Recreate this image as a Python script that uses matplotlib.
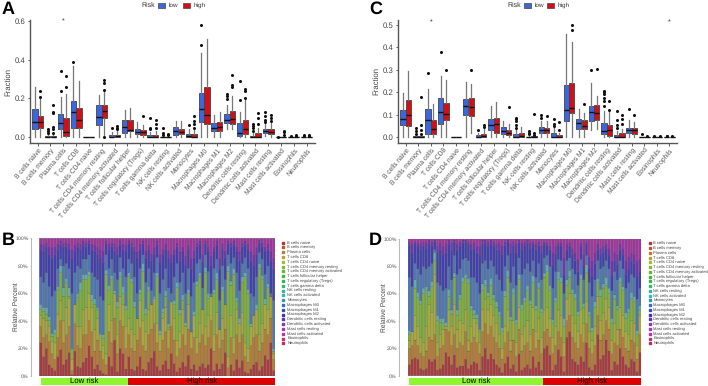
import numpy as np
import matplotlib
matplotlib.use("Agg")
import matplotlib.pyplot as plt
from matplotlib.patches import Rectangle
from matplotlib.colors import hsv_to_rgb

plt.rcParams['font.family'] = ['Liberation Sans', 'DejaVu Sans']
plt.rcParams['text.hinting'] = 'none'

cells = ["B cells naive", "B cells memory", "Plasma cells", "T cells CD8", "T cells CD4 naive",
         "T cells CD4 memory resting", "T cells CD4 memory activated", "T cells follicular helper",
         "T cells regulatory (Tregs)", "T cells gamma delta", "NK cells resting", "NK cells activated",
         "Monocytes", "Macrophages M0", "Macrophages M1", "Macrophages M2", "Dendritic cells resting",
         "Dendritic cells activated", "Mast cells resting", "Mast cells activated", "Eosinophils", "Neutrophils"]

# panel A, low risk
a_low_q1 = [.04, 0, .04, .05, 0, .065, 0, .02, .015, 0, 0, .012, 0, .08, .03, .075, .005, 0, .02, 0, 0, 0]
a_low_med = [.08, 0, .075, .13, 0, .105, 0, .055, .025, 0, 0, .03, .005, .145, .045, .09, .022, 0, .03, 0, 0, 0]
a_low_q3 = [.145, .005, .118, .185, 0, .165, .01, .09, .042, .01, .002, .055, .018, .228, .072, .12, .075, .008, .04, 0, 0, 0]
a_low_lo = [0, 0, 0, 0, 0, 0, 0, 0, 0, 0, 0, 0, 0, 0, 0, .04, 0, 0, .005, 0, 0, 0]
a_low_hi = [.26, .01, .205, .365, 0, .22, .025, .14, .08, .025, .005, .085, .04, .435, .115, .165, .13, .02, .07, 0, 0, 0]
a_low_out = [[], [.02, .03, .04], [.24, .34], [.39], [], [], [.05], [], [], [.04, .05, .1], [.01, .02, .05], [],
             [.065], [.475, .58], [], [.195, .215, .225], [.19, .29], [.03, .045, .06, .07], [.08, .09, .11, .13],
             [.002], [.005], [.005, .01]]

# panel A, high risk
a_high_q1 = [.045, 0, .008, .05, 0, .1, 0, .03, .012, 0, 0, .015, 0, .07, .03, .07, .015, 0, .018, 0, 0, 0]
a_high_med = [.08, 0, .025, .09, 0, .135, .005, .035, .025, .002, 0, .025, .002, .115, .055, .095, .04, .002, .028, 0, 0, 0]
a_high_q3 = [.11, .005, .098, .15, 0, .165, .012, .09, .038, .012, .002, .042, .015, .26, .078, .135, .09, .02, .042, 0, 0, 0]
a_high_lo = [0, 0, 0, 0, 0, 0, 0, 0, 0, 0, 0, 0, 0, 0, 0, .04, 0, 0, 0, 0, 0, 0]
a_high_hi = [.2, .012, .225, .29, 0, .235, .03, .15, .062, .03, .005, .082, .035, .505, .13, .215, .19, .05, .075, 0, 0, 0]
a_high_out = [[.21, .24], [.02, .04, .055, .125, .13, .165], [.26, .315], [], [], [0, .245, .28, .295],
              [.04, .05, .06], [], [.11], [.05, .07, .09], [.01, .015], [], [.05, .07, .085, .11], [], [],
              [.26, .27, .32], [.2, .24, .25], [.07, .1, .125], [.085, .1, .115], [.01, .025, .032],
              [.005, .012], [.005, .012]]

# panel C, low risk
c_low_q1 = [.052, 0, .015, .058, 0, .1, 0, .03, .015, 0, 0, .018, 0, .07, .035, .07, .012, 0, .017, 0, 0, 0]
c_low_med = [.08, 0, .075, .11, 0, .137, .002, .053, .027, .002, 0, .03, .002, .12, .062, .11, .025, .002, .03, 0, 0, 0]
c_low_q3 = [.12, .003, .123, .175, 0, .168, .01, .08, .045, .012, .002, .045, .016, .232, .08, .14, .062, .01, .042, 0, 0, 0]
c_low_lo = [0, 0, 0, 0, 0, 0, 0, 0, 0, 0, 0, 0, 0, 0, 0, .03, 0, 0, 0, 0, 0, 0]
c_low_hi = [.195, .008, .215, .27, 0, .245, .02, .138, .072, .03, .006, .07, .04, .46, .125, .24, .115, .025, .075, 0, 0, 0]
c_low_out = [[], [.015, .025, .04], [.287], [.38], [], [], [.03], [], [], [.04, .055, .07, .08, .085],
             [.012, .02, .028], [.085, .1], [.05, .06, .08], [], [], [.298], [.14, .16, .175, .19, .2, .205],
             [.04, .055, .075, .115], [.125], [.015], [.005], [.003, .005]]

# panel C, high risk
c_high_q1 = [.048, 0, .012, .075, 0, .095, .002, .02, .008, 0, 0, .017, 0, .105, .035, .078, .005, 0, .012, 0, 0, 0]
c_high_med = [.098, 0, .037, .102, 0, .133, .007, .057, .02, .005, 0, .03, .002, .13, .05, .107, .03, .002, .032, 0, 0, 0]
c_high_q3 = [.163, .004, .075, .15, 0, .172, .015, .086, .032, .02, .003, .042, .008, .24, .078, .143, .052, .02, .042, 0, 0, 0]
c_high_lo = [0, 0, 0, 0, 0, .02, 0, 0, 0, 0, 0, 0, 0, 0, 0, .035, 0, 0, 0, 0, 0, 0]
c_high_hi = [.293, .01, .147, .255, 0, .235, .035, .155, .06, .045, .006, .07, .018, .423, .105, .185, .11, .035, .065, 0, 0, 0]
c_high_out = [[], [.015, .03, .055, .18], [], [.3], [], [.3], [.045, .055], [], [.132], [], [.01, .02, .102],
              [.095], [.03, .065], [.478, .497], [.148], [.302], [.122, .16], [.06, .08, .1], [.098], [.003],
              [.003], [.005]]

# stacked bars: cumulative tops of the colour bands, read bar by bar
b_n_low = 31
b_red = [24,14,20,8,6,4,14,19,8,12,17,1,18,7,6,10,13,22,14,5,8,4,2,1,14,7,26,3,20,16,5,
         14,5,4,7,14,5,4,10,13,18,7,4,8,11,5,16,9,3,6,10,7,15,5,8,4,7,9,6,8,20,4,9,5,9,17,0,8,4,12,6,11,3,2,5,8,10,4,7,15,12,24,4]
b_orange = [36,28,30,25,16,12,28,40,24,30,36,4,38,22,20,30,30,40,32,18,26,18,12,8,32,24,42,16,40,36,20,
            30,20,18,26,35,22,18,30,34,38,24,18,26,32,20,36,26,14,20,30,22,34,20,28,16,24,30,22,28,40,18,30,20,26,34,6,28,16,30,24,30,14,10,22,28,30,18,24,34,30,42,12]
b_olive = [44,42,40,36,25,24,45,55,40,50,56,12,52,36,36,48,50,60,50,34,42,30,22,16,52,40,60,30,58,52,36,
           42,34,30,42,55,40,32,48,52,56,38,30,42,50,34,54,42,26,32,48,36,52,32,44,28,38,48,36,44,58,30,46,34,42,52,14,44,28,48,38,46,24,20,36,44,48,30,38,52,48,58,16]
b_green = [48,47,45,40,29,31,62,75,58,68,58,19,44,57,62,70,70,73,55,52,48,28,27,74,62,70,57,50,72,60,48,
           72,68,50,36,60,76,45,62,40,55,72,30,46,58,35,30,52,64,45,55,36,60,28,44,66,72,40,75,56,34,60,70,28,62,48,76,66,74,54,38,68,72,60,34,28,48,78,70,52,64,32,18]
b_teal = [52,50,50,43,31,34,65,80,64,71,64,20,51,60,68,74,74,76,59,56,50,31,30,77,66,73,62,54,76,65,51,
          75,71,54,39,63,82,49,65,44,58,75,33,49,62,38,33,55,68,48,59,39,63,32,47,69,75,43,79,60,37,63,75,31,65,52,80,69,78,57,42,72,75,63,38,30,52,82,73,56,67,35,20]
b_blue = [72,68,75,65,58,62,78,85,80,82,78,60,75,80,78,85,85,88,75,72,70,58,55,88,78,85,75,70,86,78,72,
          85,82,72,60,78,88,68,78,62,75,86,60,70,78,64,60,72,82,68,75,60,78,58,68,82,85,64,88,76,60,78,85,55,80,70,88,82,86,75,62,82,86,78,60,58,72,90,85,74,80,60,55]
b_indigo = [92,90,94,88,86,88,92,95,93,94,92,85,90,93,92,95,94,96,92,90,88,85,82,96,92,94,91,88,95,92,90,
            96,94,90,85,92,96,86,92,84,88,95,82,88,92,86,82,88,94,84,90,80,92,78,86,94,95,82,96,90,80,90,95,78,92,86,96,94,95,90,84,94,95,92,84,80,88,97,94,90,92,84,78]
b_purple = [96,95,97,94,93,94,96,98,97,97,96,92,95,97,96,98,97,98,96,95,94,92,91,98,96,97,96,94,98,96,95,
            98,97,94,90,96,98,91,95,89,93,98,88,92,96,91,88,92,97,90,94,87,95,85,91,97,98,88,98,94,87,94,98,85,96,91,98,97,98,94,90,97,98,96,90,88,93,99,97,94,96,90,86]

d_n_low = 48
d_red = [8,12,13,12,5,4,5,12,10,12,4,5,8,17,14,8,15,6,7,7,12,5,8,10,9,4,14,20,12,16,12,8,6,2,9,14,5,8,3,16,4,6,8,5,14,6,10,4,
         20,22,15,4,8,19,14,3,28,32,12,10,8,14,10,24,6,4,8,30,12,15,26,18,4,10,8,20,14,8,6,12,10,3,17]
d_orange = [20,22,26,22,16,14,18,28,26,30,14,20,22,34,32,22,30,20,24,22,32,18,24,28,24,16,32,38,30,36,28,24,20,12,24,32,18,26,14,34,18,22,24,18,34,20,26,16,
            32,34,28,16,22,32,28,14,40,44,28,24,20,30,24,38,20,16,22,44,26,30,40,34,16,24,22,34,28,20,18,26,24,12,30]
d_olive = [26,32,44,36,28,24,36,52,46,74,24,30,34,36,48,36,52,34,40,38,48,26,36,42,38,24,48,56,48,52,44,38,30,20,36,48,26,40,24,50,30,36,40,30,50,32,42,28,
           48,50,42,28,36,48,44,24,56,60,44,38,32,48,38,54,32,26,36,58,40,46,56,50,26,38,34,50,44,32,30,40,38,22,44]
d_green = [30,29,64,57,52,60,62,58,65,84,40,39,38,36,58,45,72,44,56,68,71,67,48,45,42,32,62,66,58,66,56,50,44,32,58,72,40,60,38,70,48,54,62,52,68,48,64,46,
           72,76,62,38,54,70,68,36,66,72,60,56,44,70,50,75,44,32,50,68,58,64,66,60,38,56,48,68,62,42,46,56,54,30,48]
d_teal = [33,32,70,61,55,64,65,62,69,90,44,42,42,39,63,48,75,48,59,72,74,71,51,48,45,34,67,70,61,71,59,54,47,35,62,77,43,64,41,74,52,57,66,55,73,51,68,49,
          75,81,66,41,57,76,72,42,70,77,63,60,47,74,53,81,47,35,54,71,63,67,72,64,42,59,51,72,65,46,49,61,58,33,51]
d_blue = [72,65,82,78,74,80,78,80,82,92,68,66,62,64,80,70,88,74,78,85,86,84,72,72,68,60,82,84,78,84,80,74,70,62,80,88,68,80,66,86,74,78,82,76,84,72,82,70,
          86,88,80,64,76,85,84,60,84,86,78,74,66,85,70,88,68,58,70,84,78,80,84,78,62,76,70,84,78,64,68,74,72,56,64]
d_indigo = [95,90,96,94,92,95,93,96,95,98,90,92,88,90,96,92,98,92,94,97,97,96,92,93,90,88,96,96,94,96,95,92,92,88,95,98,90,95,90,97,92,94,96,93,96,92,95,90,
            96,95,92,80,88,94,94,74,92,94,88,84,76,94,80,96,78,72,82,92,88,90,93,88,72,84,80,92,88,74,78,84,82,72,76]
d_purple = [98,96,98,97,96,98,97,99,98,99,95,97,94,96,99,97,99,96,98,99,99,98,96,97,95,94,99,99,98,99,98,96,97,95,98,99,96,98,96,99,97,98,99,97,98,96,98,95,
            98,97,95,90,94,97,97,86,96,97,93,90,85,97,88,98,87,84,90,96,93,95,96,93,84,90,88,96,93,84,87,90,88,84,85]

band_colors = ["#ab3a3c", "#b47c34", "#a9a839", "#7fb03c", "#62ada6", "#4e78b4", "#4140ae", "#7533ad", "#a2339f"]
W, H = 708, 386
fig = plt.figure(figsize=(W / 100, H / 100), dpi=100)


def px_axes(x0, y0, x1, y1):
    return fig.add_axes([x0 / W, 1 - y1 / H, (x1 - x0) / W, (y1 - y0) / H])


def stats(q1, med, q3, lo, hi, out):
    return [dict(q1=a, med=b, q3=c, whislo=d, whishi=e, fliers=f) for a, b, c, d, e, f in zip(q1, med, q3, lo, hi, out)]


def box_panel(box, low, high, xlim, ylim, yticks, stars):
    ax = px_axes(*box)
    pos = np.arange(len(cells))
    for st, shift, col in [(low, -0.215, "#3a66e0"), (high, 0.215, "#d40f14")]:
        ax.bxp(st, positions=pos + shift, widths=0.42, patch_artist=True, showcaps=False,
               boxprops=dict(facecolor=col, edgecolor="#444444", linewidth=0.6),
               medianprops=dict(color="#111111", linewidth=1.0),
               whiskerprops=dict(color="#777777", linewidth=0.9),
               flierprops=dict(marker="o", markersize=2.2, markerfacecolor="#111111", markeredgecolor="#111111", markeredgewidth=0))
    for i, y in stars:
        ax.text(i, y, "*", ha="center", va="center", fontsize=5, color="#333333")
    ax.set_xlim(*xlim)
    ax.set_ylim(*ylim)
    ax.set_xticks(pos)
    ax.set_xticklabels(cells, rotation=50, ha="right", rotation_mode="anchor", fontsize=4.8, color="#555555")
    ax.set_yticks(yticks)
    ax.set_yticklabels([f"{t:.1f}" for t in yticks], fontsize=5.6, color="#444444")
    ax.set_ylabel("Fraction", fontsize=5.6, color="#444444", labelpad=2.5)
    ax.tick_params(length=1.8, width=0.6, color="#444444", pad=1.2)
    for s in ["top", "right"]:
        ax.spines[s].set_visible(False)
    for s in ["left", "bottom"]:
        ax.spines[s].set_color("#555555")
        ax.spines[s].set_linewidth(1.0)


def stack_panel(box, strip, tops, n_low, ylab_x, spine_out):
    ax = px_axes(*box)
    # set_position resets the ticks, so the spine goes first
    for s in ax.spines.values():
        s.set_visible(False)
    ax.spines["left"].set_visible(True)
    ax.spines["left"].set_position(("outward", spine_out))
    ax.spines["left"].set_color("#bbbbbb")
    ax.spines["left"].set_linewidth(0.8)
    tops = np.maximum.accumulate(np.array(tops, dtype=float), axis=0)
    tops = np.vstack([tops, np.full(tops.shape[1], 100.0)])
    xs = np.arange(tops.shape[1])
    bottom = np.zeros(tops.shape[1])
    for row, col in zip(tops, band_colors):
        ax.bar(xs, row - bottom, bottom=bottom, width=0.88, color=col, edgecolor="#3a3a3a", linewidth=0.12, snap=False)
        bottom = row
    ax.set_xlim(-0.5, len(xs) - 0.5)
    ax.set_ylim(0, 100)
    ax.set_facecolor("#c4c4c4")
    ax.set_xticks([])
    ax.set_yticks(range(0, 101, 20))
    ax.set_yticklabels([f"{t}%" for t in range(0, 101, 20)], fontsize=3.8, color="#555555")
    ax.tick_params(length=1, width=0.4, color="#aaaaaa", pad=0.5)
    fig.text(ylab_x / W, 1 - (box[1] + box[3]) / 2 / H, "Relative Percent", rotation=90, fontsize=4.8,
             color="#444444", ha="center", va="center")
    # low / high strip under the bars
    sx = px_axes(*strip)
    sx.barh(0, n_low, left=0, height=1, color="#8ef52f")
    sx.barh(0, len(xs) - n_low, left=n_low, height=1, color="#df0000")
    sx.text(n_low / 2, 0, "Low risk", ha="center", va="center", fontsize=5.6)
    sx.text(n_low + (len(xs) - n_low) / 2, 0, "High risk", ha="center", va="center", fontsize=5.6)
    sx.set_xlim(0, len(xs))
    sx.set_ylim(-0.5, 0.5)
    sx.axis("off")


def cell_legend(x_mark, x_text, y0, y1):
    for i, name in enumerate(cells):
        y = y0 + (y1 - y0) * i / (len(cells) - 1)
        rgb = hsv_to_rgb((i / len(cells), 0.72, 0.72))
        fig.patches.append(Rectangle(((x_mark - 1) / W, 1 - (y + 1) / H), 2 / W, 2 / H, color=rgb,
                                     transform=fig.transFigure))
        fig.text(x_text / W, 1 - y / H, name, fontsize=3.0, color="#444444", va="center")


def risk_legend(x_risk, x_low, x_high):
    fig.text(x_risk / W, 1 - 5.5 / H, "Risk", fontsize=5, color="#333333", va="center")
    for x, col, name in [(x_low, "#3a66e0", "low"), (x_high, "#d40f14", "high")]:
        fig.patches.append(Rectangle((x / W, 1 - 8 / H), 7 / W, 5 / H, facecolor=col, edgecolor="#444444",
                                     linewidth=0.5, transform=fig.transFigure))
        fig.text((x + 11) / W, 1 - 5.5 / H, name, fontsize=4.6, color="#333333", va="center")


box_panel((30, 20, 315, 143), stats(a_low_q1, a_low_med, a_low_q3, a_low_lo, a_low_hi, a_low_out),
          stats(a_high_q1, a_high_med, a_high_q3, a_high_lo, a_high_hi, a_high_out),
          (-0.6, 21.66), (-0.03, 0.605), [0, .2, .4, .6], [(2, 0.598)])
box_panel((398, 20, 677, 142.7), stats(c_low_q1, c_low_med, c_low_q3, c_low_lo, c_low_hi, c_low_out),
          stats(c_high_q1, c_high_med, c_high_q3, c_high_lo, c_high_hi, c_high_out),
          (-0.61, 21.6), (-0.025, 0.521), [0, .1, .2, .3, .4, .5], [(2, 0.508), (21, 0.508)])

b_tops = [b_red, b_orange, b_olive, b_green, b_teal, b_blue, b_indigo, b_purple]
d_tops = [d_red, d_orange, d_olive, d_green, d_teal, d_blue, d_indigo, d_purple]
stack_panel((39.3, 238.3, 275, 376), (40.7, 377.7, 275, 385), b_tops, b_n_low, 16, 6.2)
stack_panel((408, 238.7, 641.3, 375.7), (409, 377.5, 640.7, 385), d_tops, d_n_low, 384, 6.5)

cell_legend(283.3, 287.3, 242.7, 343.3)
cell_legend(650, 653.3, 243.3, 343.3)
risk_legend(141, 158, 183)
risk_legend(507, 524, 547)

for label, x, y in [("A", 2, 9), ("B", 2, 240), ("C", 369, 9), ("D", 369, 240)]:
    fig.text(x / W, 1 - y / H, label, fontsize=13, fontweight="bold", va="center", color="black")

fig.savefig("out.png", dpi=100)
